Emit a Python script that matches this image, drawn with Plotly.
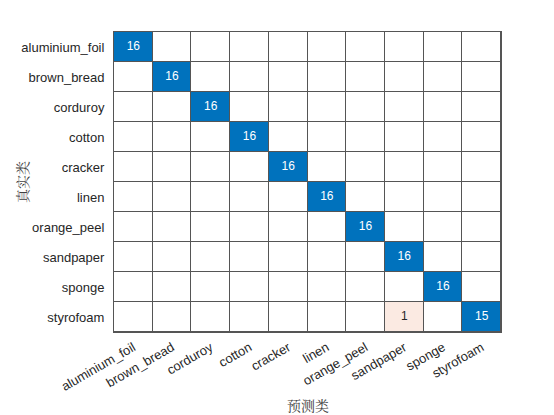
import plotly.graph_objects as go

classes = ["aluminium_foil", "brown_bread", "corduroy", "cotton", "cracker",
           "linen", "orange_peel", "sandpaper", "sponge", "styrofoam"]

# confusion matrix: rows = true class, columns = predicted class
counts = [
    [16, 0, 0, 0, 0, 0, 0, 0, 0, 0],
    [0, 16, 0, 0, 0, 0, 0, 0, 0, 0],
    [0, 0, 16, 0, 0, 0, 0, 0, 0, 0],
    [0, 0, 0, 16, 0, 0, 0, 0, 0, 0],
    [0, 0, 0, 0, 16, 0, 0, 0, 0, 0],
    [0, 0, 0, 0, 0, 16, 0, 0, 0, 0],
    [0, 0, 0, 0, 0, 0, 16, 0, 0, 0],
    [0, 0, 0, 0, 0, 0, 0, 16, 0, 0],
    [0, 0, 0, 0, 0, 0, 0, 0, 16, 0],
    [0, 0, 0, 0, 0, 0, 0, 1, 0, 15],
]

x_title = "预测类"
y_title = "真实类"

n = len(classes)
zc = []
for i in range(n):
    row = []
    for j in range(n):
        v = counts[i][j]
        if v == 0:
            row.append(0)
        elif i == j:
            row.append(2)
        else:
            row.append(1)
    zc.append(row)

colorscale = [
    [0.0, "#FFFFFF"], [0.333, "#FFFFFF"],
    [0.334, "#FBEAE2"], [0.666, "#FBEAE2"],
    [0.667, "#0072BD"], [1.0, "#0072BD"],
]

fig = go.Figure()
fig.add_trace(go.Heatmap(
    z=zc, x=classes, y=classes, colorscale=colorscale, zmin=0, zmax=2,
    showscale=False, xgap=1, ygap=1, hoverinfo="skip",
))

tx, ty, tt, tc = [], [], [], []
for i in range(n):
    for j in range(n):
        v = counts[i][j]
        if v:
            tx.append(classes[j]); ty.append(classes[i]); tt.append(str(v))
            tc.append("white" if i == j else "#262626")
fig.add_trace(go.Scatter(
    x=tx, y=ty, text=tt, mode="text",
    textfont=dict(color=tc, size=12, family="Liberation Sans, Arial"),
    hoverinfo="skip", showlegend=False,
))

fig.update_layout(
    width=554, height=415,
    margin=dict(l=106, r=61, t=24, b=91),
    paper_bgcolor="white", plot_bgcolor="#555555",
    font=dict(family="Liberation Sans, Arial", size=13, color="#262626"),
    showlegend=False,
    annotations=[
        dict(text=x_title, xref="paper", yref="paper", x=0.5, y=-73 / 300,
             xanchor="center", yanchor="middle", showarrow=False,
             font=dict(family="Noto Serif CJK SC, Noto Sans CJK SC", size=14, color="#404040")),
        dict(text=y_title, xref="paper", yref="paper", x=-92 / 387, y=0.5,
             xanchor="center", yanchor="middle", showarrow=False, textangle=-90,
             font=dict(family="Noto Serif CJK SC, Noto Sans CJK SC", size=14, color="#404040")),
    ],
)
fig.update_xaxes(
    tickangle=-30, showgrid=False, zeroline=False, ticks="",
    showline=True, linecolor="#555555", linewidth=1, mirror=True,
    tickfont=dict(size=13), ticklabelstandoff=2,
)
fig.update_yaxes(
    autorange="reversed", showgrid=False, zeroline=False, ticks="",
    showline=True, linecolor="#555555", linewidth=1, mirror=True,
    tickfont=dict(size=13), ticklabelstandoff=6,
)

fig.write_html("out.html")
